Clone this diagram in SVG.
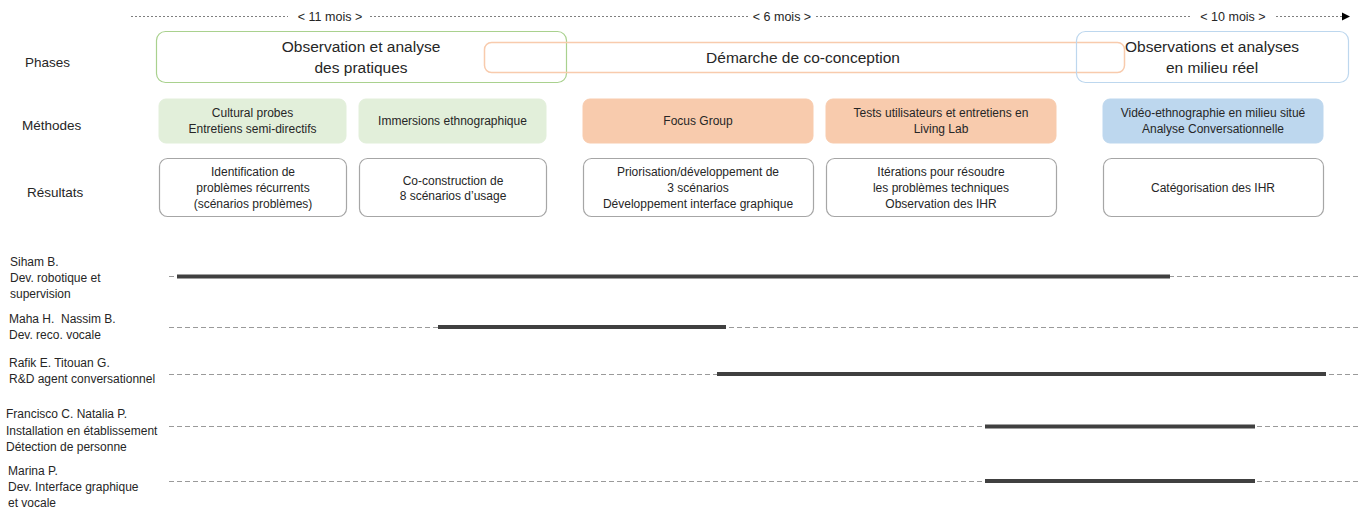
<svg xmlns="http://www.w3.org/2000/svg" width="1361" height="508" viewBox="0 0 1361 508">
<style>
text{font-family:"Liberation Sans",Arial,sans-serif;fill:#262626}
.rl{font-size:13.5px}
.ph{font-size:15.5px;text-anchor:middle}
.m{font-size:12px;text-anchor:middle}
.p{font-size:12px;white-space:pre}
.tl{font-size:12.5px;text-anchor:middle}
.g{fill:#E2EFDA;stroke:#E2EFDA}
.o{fill:#F8CBAD;stroke:#F8CBAD}
.b{fill:#BDD7EE;stroke:#BDD7EE}
.r{fill:#fff;stroke:#A6A6A6;stroke-width:1.2}
.dot{stroke:#7F7F7F;stroke-width:1;stroke-dasharray:2 2;fill:none}
.dash{stroke:#9A9A9A;stroke-width:1;stroke-dasharray:5 3;fill:none}
.bar{stroke:#404040;stroke-width:4;fill:none}
</style>

<g id="timeline-axis">
<line class="dot" x1="131" y1="16.5" x2="288" y2="16.5"/>
<line class="dot" x1="370" y1="16.5" x2="748" y2="16.5"/>
<line class="dot" x1="816" y1="16.5" x2="1192" y2="16.5"/>
<line class="dot" x1="1276" y1="16.5" x2="1343" y2="16.5"/>
<path d="M1342,12.5 L1350,16.5 L1342,20.5 Z" fill="#000"/>
<text class="tl" x="330" y="21">&lt; 11 mois &gt;</text>
<text class="tl" x="782" y="21">&lt; 6 mois &gt;</text>
<text class="tl" x="1233" y="21">&lt; 10 mois &gt;</text>
</g>

<g id="row-labels">
<text class="rl" x="25" y="67">Phases</text>
<text class="rl" x="22" y="130">Méthodes</text>
<text class="rl" x="27" y="197">Résultats</text>
</g>

<g id="phase-observation">
<rect x="156.5" y="31.5" width="410" height="51" rx="9" fill="none" stroke="#A9D18E" stroke-width="1.2"/>
<text class="ph" x="361" y="52">Observation et analyse</text>
<text class="ph" x="361" y="73">des pratiques</text>
</g>
<g id="phase-coconception">
<rect x="484.5" y="42.5" width="640" height="30" rx="7" fill="none" stroke="#F8CBAD" stroke-width="1.5"/>
<text class="ph" x="803" y="63">Démarche de co-conception</text>
</g>
<g id="phase-milieu-reel">
<rect x="1076.5" y="31.5" width="272" height="51" rx="9" fill="none" stroke="#BDD7EE" stroke-width="1.2"/>
<text class="ph" x="1212" y="52">Observations et analyses</text>
<text class="ph" x="1212" y="73">en milieu réel</text>
</g>

<g id="method-cultural-probes">
<rect class="g" x="159" y="99" width="187" height="44" rx="7"/>
<text class="m" x="252.5" y="117">Cultural probes</text>
<text class="m" x="252.5" y="133">Entretiens semi-directifs</text>
</g>
<g id="method-immersions">
<rect class="g" x="359" y="99" width="187" height="44" rx="7"/>
<text class="m" x="452.5" y="125">Immersions ethnographique</text>
</g>
<g id="method-focus-group">
<rect class="o" x="583" y="99" width="230" height="44" rx="7"/>
<text class="m" x="698" y="125">Focus Group</text>
</g>
<g id="method-tests">
<rect class="o" x="826" y="99" width="230" height="44" rx="7"/>
<text class="m" x="941" y="117">Tests utilisateurs et entretiens en</text>
<text class="m" x="941" y="133">Living Lab</text>
</g>
<g id="method-video">
<rect class="b" x="1103" y="99" width="220" height="44" rx="7"/>
<text class="m" x="1213" y="117">Vidéo-ethnographie en milieu situé</text>
<text class="m" x="1213" y="133">Analyse Conversationnelle</text>
</g>

<g id="result-identification">
<rect class="r" x="159.5" y="158.5" width="187" height="58" rx="8"/>
<text class="m" x="253" y="176">Identification de</text>
<text class="m" x="253" y="192">problèmes récurrents</text>
<text class="m" x="253" y="208">(scénarios problèmes)</text>
</g>
<g id="result-coconstruction">
<rect class="r" x="359.5" y="158.5" width="187" height="58" rx="8"/>
<text class="m" x="453" y="185">Co-construction de</text>
<text class="m" x="453" y="200">8 scénarios d’usage</text>
</g>
<g id="result-priorisation">
<rect class="r" x="583.5" y="158.5" width="230" height="58" rx="8"/>
<text class="m" x="698" y="176">Priorisation/développement de</text>
<text class="m" x="698" y="192">3 scénarios</text>
<text class="m" x="698" y="208">Développement interface graphique</text>
</g>
<g id="result-iterations">
<rect class="r" x="826.5" y="158.5" width="230" height="58" rx="8"/>
<text class="m" x="941" y="176">Itérations pour résoudre</text>
<text class="m" x="941" y="192">les problèmes techniques</text>
<text class="m" x="941" y="208">Observation des IHR</text>
</g>
<g id="result-categorisation">
<rect class="r" x="1103.5" y="158.5" width="220" height="58" rx="8"/>
<text class="m" x="1213" y="192">Catégorisation des IHR</text>
</g>

<g id="person-siham">
<text class="p" x="10" y="266">Siham B.</text>
<text class="p" x="10" y="282">Dev. robotique et</text>
<text class="p" x="10" y="298">supervision</text>
</g>
<g id="person-maha-nassim">
<text class="p" x="9" y="323">Maha H.  Nassim B.</text>
<text class="p" x="9" y="339">Dev. reco. vocale</text>
</g>
<g id="person-rafik-titouan">
<text class="p" x="9" y="367">Rafik E. Titouan G.</text>
<text class="p" x="9" y="383">R&amp;D agent conversationnel</text>
</g>
<g id="person-francisco-natalia">
<text class="p" x="6" y="418">Francisco C. Natalia P.</text>
<text class="p" x="6" y="435">Installation en établissement</text>
<text class="p" x="6" y="451">Détection de personne</text>
</g>
<g id="person-marina">
<text class="p" x="8" y="475">Marina P.</text>
<text class="p" x="8" y="491">Dev. Interface graphique</text>
<text class="p" x="8" y="507">et vocale</text>
</g>

<g id="connectors">
<line class="dash" x1="169" y1="276.5" x2="1359" y2="276.5"/>
<line class="bar" x1="177" y1="276.5" x2="1170" y2="276.5"/>
<line class="dash" x1="169" y1="327.5" x2="1359" y2="327.5"/>
<line class="bar" x1="438" y1="327" x2="726" y2="327"/>
<line class="dash" x1="169" y1="374.5" x2="1359" y2="374.5"/>
<line class="bar" x1="717" y1="374" x2="1326" y2="374"/>
<line class="dash" x1="169" y1="426.5" x2="1359" y2="426.5"/>
<line class="bar" x1="985" y1="426.5" x2="1255" y2="426.5"/>
<line class="dash" x1="169" y1="481.5" x2="1359" y2="481.5"/>
<line class="bar" x1="985" y1="481" x2="1255" y2="481"/>
</g>
</svg>
